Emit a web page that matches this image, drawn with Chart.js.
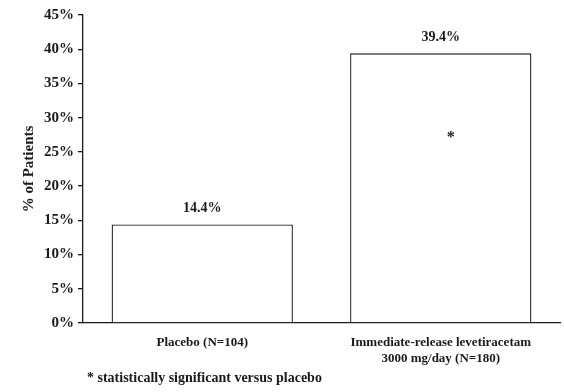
<!DOCTYPE html>
<html>
<head>
<meta charset="utf-8">
<script src="https://cdn.jsdelivr.net/npm/chart.js@4"></script>
<style>
  html, body { margin: 0; padding: 0; background: #fff; }
  #wrap { width: 564px; height: 392px; position: relative; }
</style>
</head>
<body>
<div id="wrap"><canvas id="chart"></canvas></div>
<script>
// данные с картинки
const categories = [['Placebo (N=104)'], ['Immediate-release levetiracetam', '3000 mg/day (N=180)']];
const percentValues = [14.4, 39.4];
const valueLabels = ['14.4%', '39.4%'];
const significantMarks = ['', '*'];
const footnote = '* statistically significant versus placebo';

const FONT = '"Liberation Serif", "Times New Roman", serif';

// подписи над столбиками, звёздочка и сноска
const labelsPlugin = {
    id: 'labelsPlugin',
    afterDatasetsDraw(chart) {
        const ctx = chart.ctx;
        const meta = chart.getDatasetMeta(0);
        ctx.save();
        ctx.fillStyle = '#1a1a1a';
        ctx.textAlign = 'center';
        ctx.textBaseline = 'alphabetic';
        meta.data.forEach((bar, i) => {
            ctx.font = 'bold 14px ' + FONT;
            ctx.fillText(valueLabels[i], bar.x, bar.y - 12);
            if (significantMarks[i]) {
                ctx.font = 'bold 16px ' + FONT;
                let yMid = chart.scales.y.getPixelForValue(percentValues[i] * 0.7);
                ctx.fillText(significantMarks[i], bar.x + 10, yMid + 8);
            }
        });
        ctx.textAlign = 'left';
        ctx.font = 'bold 14px ' + FONT;
        ctx.fillText(footnote, 87, 382);
        ctx.restore();
    }
};

new Chart(document.getElementById('chart'), {
    type: 'bar',
    data: {
        labels: categories,
        datasets: [{
            data: percentValues,
            backgroundColor: '#ffffff',
            borderColor: '#1a1a1a',
            borderWidth: 1.3,
            barPercentage: 0.76,
            categoryPercentage: 1.0
        }]
    },
    options: {
        responsive: true,
        maintainAspectRatio: false,
        animation: false,
        events: [],
        layout: { padding: { top: 15, right: 4, bottom: 0, left: 20 } },
        plugins: { legend: { display: false }, tooltip: { enabled: false } },
        scales: {
            x: {
                grid: { display: false, drawTicks: false },
                border: { color: '#1a1a1a', width: 1.3 },
                ticks: { color: '#1a1a1a', font: { family: FONT, size: 13, weight: 'bold' }, padding: 12, maxRotation: 0 },
                afterFit(scale) { scale.height = 69; }
            },
            y: {
                min: 0, max: 45,
                ticks: {
                    stepSize: 5,
                    color: '#1a1a1a',
                    font: { family: FONT, size: 15, weight: 'bold' },
                    padding: 4,
                    callback: v => v + '%'
                },
                grid: { drawOnChartArea: false, drawTicks: true, tickLength: 5, color: '#1a1a1a', lineWidth: 1.3 },
                border: { color: '#1a1a1a', width: 1.3 },
                title: { display: true, text: '% of Patients', color: '#1a1a1a', font: { family: FONT, size: 15, weight: 'bold' }, padding: { top: 0, bottom: 4 } },
                afterFit(scale) { scale.width = 63; }
            }
        }
    },
    plugins: [labelsPlugin]
});
</script>
</body>
</html>
